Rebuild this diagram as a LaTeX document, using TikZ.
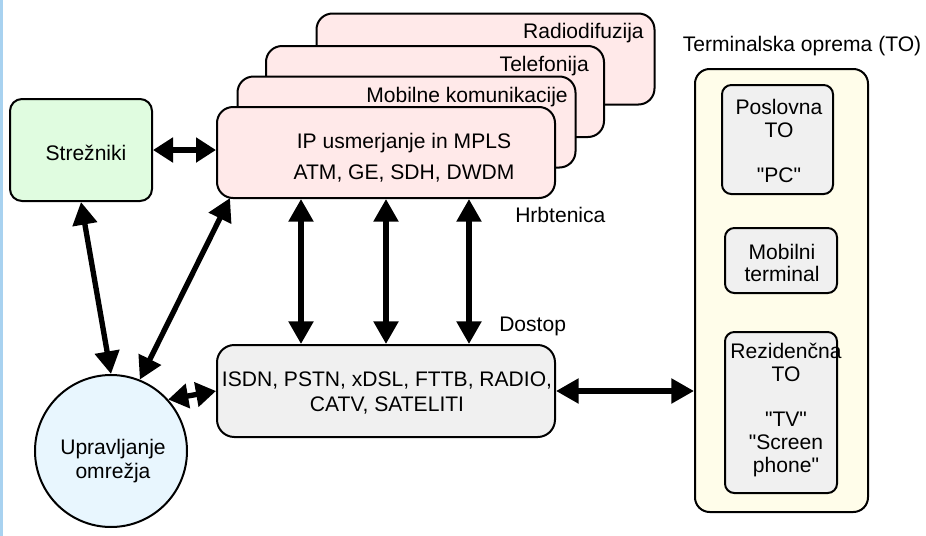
\documentclass[tikz,border=0pt]{standalone}
\usepackage{fontspec}
\setmainfont{Liberation Sans}[Ligatures=TeXOff]
\usetikzlibrary{arrows.meta}
\definecolor{pinkf}{RGB}{255,233,233}
\definecolor{greenf}{RGB}{224,252,224}
\definecolor{grayf}{RGB}{240,240,240}
\definecolor{yellowf}{RGB}{255,253,234}
\definecolor{bluef}{RGB}{232,246,254}
\definecolor{edgeblue}{RGB}{168,210,240}
\begin{document}
\begin{tikzpicture}[x=0.75pt,y=-0.75pt,
  every node/.style={font=\fontsize{15.8}{17}\selectfont},
  box/.style={draw=black, line width=1.5pt, rounded corners=#1, inner sep=0pt},
  stk/.style={box=12pt, fill=pinkf, minimum width=253.5pt, minimum height=68.25pt},
  txt/.style={inner sep=0pt},
  arr/.style={line width=4pt, {Triangle[length=17pt,width=18pt]}-{Triangle[length=17pt,width=18pt]}},
  sarr/.style={line width=4pt, {Triangle[length=15pt,width=18pt]}-{Triangle[length=15pt,width=18pt]}}
]
\useasboundingbox (0,0) rectangle (926,536);
\fill[edgeblue] (0,0) rectangle (2.5,536);

% backbone stack
\node[stk] (radio) at (485.5,59) {};
\node[stk] (tel) at (435,91.5) {};
\node[stk] (mob) at (406.5,122) {};
\node[stk] (ip) at (386,152.5) {};
\node[txt, anchor=east] (tradio) at (644,33) {Radiodifuzija};
\node[txt, anchor=east] (ttel) at (589,66) {Telefonija};
\node[txt, anchor=east] (tmob) at (568,97) {Mobilne komunikacije};
\node[txt, align=center] (tip) at (404,158) {IP usmerjanje in MPLS\\[6pt]ATM, GE, SDH, DWDM};

% servers
\node[box=9pt, fill=greenf, minimum width=106.5pt, minimum height=76.5pt] (srv) at (81,150) {};
\node[txt] (tsrv) at (86,153) {Strežniki};

% access
\node[box=13pt, fill=grayf, minimum width=253.5pt, minimum height=69pt] (acc) at (386,391) {};
\node[txt, align=center] (tacc) at (387,393) {ISDN, PSTN, xDSL, FTTB, RADIO,\\[2pt]CATV, SATELITI};

\node[txt, anchor=west] (hrb) at (515,215) {Hrbtenica};
\node[txt, anchor=west] (dos) at (499,326) {Dostop};

% management
\node[draw=black, line width=1.5pt, fill=bluef, circle, minimum size=114pt, inner sep=0pt] (mgmt) at (111,451) {};
\node[txt, align=center] (tmgmt) at (113,461) {Upravljanje\\[1pt]omrežja};

% terminal equipment
\node[txt] (tto) at (802,46) {Terminalska oprema (TO)};
\node[box=11pt, fill=yellowf, minimum width=129.75pt, minimum height=332.25pt] (to) at (781.5,290.5) {};
\node[box=7pt, fill=grayf, minimum width=83.25pt, minimum height=81.75pt] (pos) at (777.5,139.5) {};
\node[txt, align=center] (tpos) at (779,141) {Poslovna\\TO\\[17pt]"PC"};
\node[box=7pt, fill=grayf, minimum width=84pt, minimum height=48.75pt] (mobt) at (781,260.5) {};
\node[txt, align=center] (tmobt) at (782,263) {Mobilni\\terminal};
\node[box=7pt, fill=grayf, minimum width=84pt, minimum height=120.75pt] (res) at (781,412.5) {};
\node[txt, align=center] (tres) at (786,410) {Rezidenčna\\TO\\[17pt]"TV"\\"Screen\\phone"};

% connectors
\draw[sarr] (srv.east) -- (srv.east -| ip.west);
\draw[arr] (srv.south) -- (mgmt.north);
\draw[arr] ([xshift=10.5pt,yshift=0.75pt]ip.south west) -- (mgmt.68);
\draw[sarr] (mgmt.42) -- (acc.west);
\draw[arr] (acc.east) -- (acc.east -| to.west);
\draw[arr] ([xshift=-63.75pt]ip.south) -- ([xshift=-63.75pt]acc.north);
\draw[arr] (ip.south) -- (acc.north);
\draw[arr] ([xshift=62.25pt]ip.south) -- ([xshift=62.25pt]acc.north);
\end{tikzpicture}
\end{document}
